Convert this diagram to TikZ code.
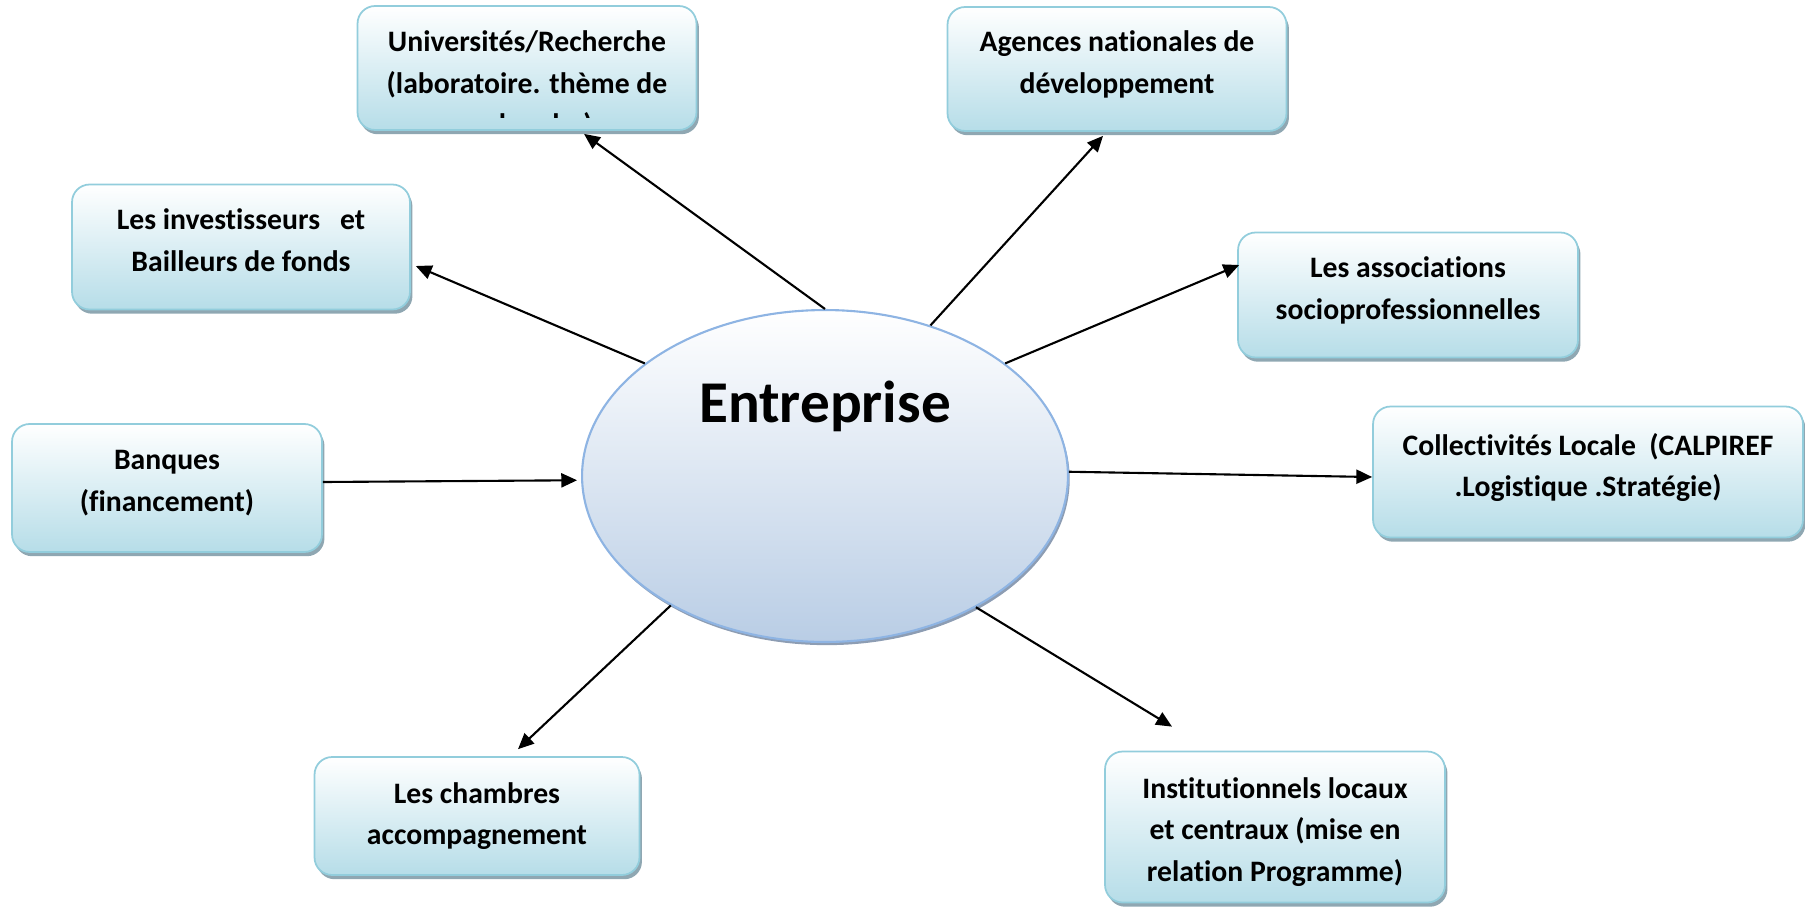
\documentclass[tikz,border=0pt]{standalone}
\usepackage{fontspec}
\setmainfont{Carlito}[Ligatures=NoCommon]
\usetikzlibrary{shapes.geometric,arrows.meta,shadows,calc}
\definecolor{boxline}{HTML}{92CDDC}
\definecolor{boxfill}{HTML}{B6DDE8}
\definecolor{boxshade}{HTML}{8FA7B2}
\definecolor{hubline}{HTML}{8EB4E3}
\definecolor{hubfill}{HTML}{B9CDE5}
\definecolor{hubshade}{HTML}{8D9DB3}
\newcommand{\padb}{\rule[-8pt]{0pt}{8pt}}
\newcommand{\padt}{\rule{0pt}{17.6pt}}
\tikzset{
  partner/.style={draw=boxline,line width=1pt,rounded corners=10pt,top color=white,bottom color=boxfill,
    align=center,inner sep=0pt,font=\bfseries\fontsize{16.9}{23.6}\selectfont,
    drop shadow={shadow xshift=1.4pt,shadow yshift=-2.4pt,fill=boxshade,opacity=1}},
  partnertxt/.style={align=center,inner sep=0pt,font=\bfseries\fontsize{16.9}{23.6}\selectfont},
  hub/.style={ellipse,draw=hubline,line width=1.2pt,top color=white,bottom color=hubfill,inner sep=0pt,
    minimum width=9.72cm,minimum height=6.64cm,
    drop shadow={shadow xshift=1pt,shadow yshift=-1.8pt,fill=hubshade,opacity=1}},
  link/.style={line width=1.2pt,-{Triangle[length=9pt,width=8pt]}}
}
\begin{document}
\begin{tikzpicture}[x=0.02cm,y=-0.02cm]
        \useasboundingbox (0,0) rectangle (1805,910);
        \node[hub] (ent) at (825,476) {};
        \node[anchor=base,font=\bfseries\fontsize{33.7}{40}\selectfont] (enttxt) at (825,422) {Entreprise};
        \node[partner,minimum width=6.78cm,minimum height=2.48cm] (univ) at (527,68) {};
        \begin{scope}
          \clip (univ.north west) rectangle ($(univ.east)+(0,49)$);
          \node[partnertxt] (univtxt) at (527,85) {Universités/Recherche\\(laboratoire. thème de\\recherche)};
        \end{scope}
        \node[partner,minimum width=6.78cm,minimum height=2.48cm] (agences) at (1117,69) {Agences nationales de\\développement\padb};
        \node[partner,minimum width=6.76cm,minimum height=2.5cm] (invest) at (241,247) {Les investisseurs\ \ \ et\\Bailleurs de fonds\padb};
        \node[partner,minimum width=6.8cm,minimum height=2.5cm] (assoc) at (1408,295) {Les associations\\socioprofessionnelles\padb};
        \node[partner,minimum width=6.2cm,minimum height=2.56cm] (banques) at (167,488) {Banques\\(financement)\padb};
        \node[partner,minimum width=8.6cm,minimum height=2.62cm] (collect) at (1588,472) {Collectivités Locale\ \ (CALPIREF\\.Logistique .Stratégie)\padb};
        \node[partner,minimum width=6.5cm,minimum height=2.36cm] (chambres) at (477,816) {Les chambres\\accompagnement};
        \node[partner,minimum width=6.8cm,minimum height=3.02cm] (instit) at (1275,827) {\padt Institutionnels locaux\\et centraux (mise en\\relation Programme)};
        \draw[link] (ent.90) -- ($(univ.south)+(57,3)$);
        \draw[link] (ent.55) -- ($(agences.south)+(-14,4)$);
        \draw[link] (ent.148) -- ($(invest.east)+(5,19)$);
        \draw[link] (ent.32) -- ($(assoc.west)+(2,-30)$);
        \draw[link] ($(banques.east)+(0,-6)$) -- ($(ent.181)+(-4,0)$);
        \draw[link] (ent.1) -- ($(collect.west)+(0,5)$);
        \draw[link] (ent.220) -- ($(chambres.north)+(41,-7)$);
        \draw[link] (ent.319) -- ($(instit.north)+(-103,-24)$);
\end{tikzpicture}
\end{document}
